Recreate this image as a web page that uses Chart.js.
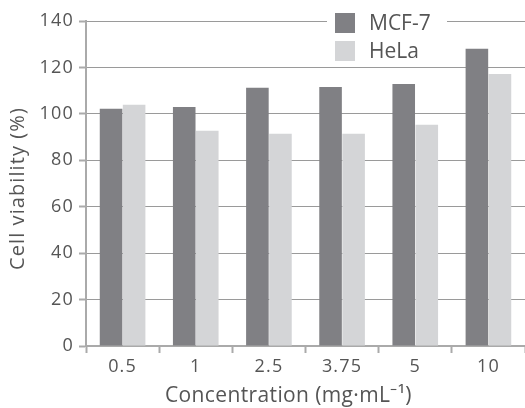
<!DOCTYPE html>
<html><head><meta charset="utf-8">
<script src="https://cdn.jsdelivr.net/npm/chart.js@4/dist/chart.umd.min.js"></script>
<style>html,body{margin:0;padding:0;background:#fff}#wrap{width:525px;height:408px}</style>
</head><body><div id="wrap"><canvas id="c" width="525" height="408"></canvas></div>
<script>
const categories = ["0.5", "1", "2.5", "3.75", "5", "10"];
const mcf7 = [102.2, 103.0, 111.2, 111.6, 112.9, 128.0];
const hela = [103.9, 92.7, 91.4, 91.4, 95.3, 117.2];
const seriesNames = ["MCF-7", "HeLa"];
const yTicks = [0, 20, 40, 60, 80, 100, 120, 140];
const xTitle = "Concentration (mg·mL⁻¹)";
const yTitle = "Cell viability (%)";

const FONT = "'Open Sans', sans-serif";
const TXT = "#555555";
const C1 = "#808084", C2 = "#d4d5d7";

const spacingPlugin = {
  id: 'spacing',
  beforeDraw(chart) { chart.ctx.letterSpacing = '1.2px'; }
};

function fittedText(ctx, text, width) {
  ctx.letterSpacing = '0px';
  const w = ctx.measureText(text).width;
  const n = [...text].length;
  ctx.letterSpacing = ((width - w) / n).toFixed(2) + 'px';
}

const overlayPlugin = {
  id: 'overlay',
  afterDraw(chart) {
    const ctx = chart.ctx;
    ctx.save();
    ctx.letterSpacing = '0px';
    // legend
    ctx.fillStyle = '#fff';
    ctx.fillRect(327, 8, 120, 56);
    chart.data.datasets.forEach((ds, i) => {
      const y = 13 + i * 28;
      ctx.fillStyle = ds.backgroundColor;
      ctx.fillRect(335, y, 20, 20);
      ctx.fillStyle = TXT;
      ctx.font = "21px " + FONT;
      ctx.textBaseline = 'middle';
      ctx.textAlign = 'left';
      ctx.fillText(ds.label, 369, y + 11);
    });
    // x title
    ctx.font = "21px " + FONT;
    ctx.textAlign = 'left';
    ctx.textBaseline = 'middle';
    fittedText(ctx, xTitle, 247);
    ctx.fillText(xTitle, 165, 396);
    // y title
    ctx.translate(18, 270);
    ctx.rotate(-Math.PI / 2);
    ctx.font = "20px " + FONT;
    fittedText(ctx, yTitle, 163);
    ctx.fillText(yTitle, 0, 0);
    ctx.restore();
  }
};

new Chart(document.getElementById('c'), {
  type: 'bar',
  data: {
    labels: categories,
    datasets: [
      { label: seriesNames[0], data: mcf7, backgroundColor: C1, borderWidth: 0 },
      { label: seriesNames[1], data: hela, backgroundColor: C2, borderWidth: 0 }
    ]
  },
  options: {
    responsive: false,
    animation: false,
    devicePixelRatio: 1,
    layout: { padding: { top: 21, right: 0, left: 0, bottom: 0 } },
    datasets: { bar: { categoryPercentage: 0.63, barPercentage: 0.98 } },
    plugins: { legend: { display: false }, tooltip: { enabled: false } },
    scales: {
      x: {
        afterFit(scale) { scale.height = 62; },
        grid: { drawOnChartArea: false, drawTicks: true, tickLength: 7, tickColor: '#aaaaaa', tickWidth: 2, offset: true },
        border: { color: '#aaaaaa', width: 2 },
        ticks: { color: TXT, font: { family: FONT, size: 18 }, padding: 3 },
        title: { display: false, text: xTitle }
      },
      y: {
        min: 0, max: 140,
        afterFit(scale) { scale.width = 86; },
        afterBuildTicks(scale) { scale.ticks = yTicks.map(v => ({ value: v })); },
        grid: { color: '#9a9a9a', lineWidth: 1, borderDash: [1, 2], tickLength: 7, tickColor: '#aaaaaa', tickWidth: 2, tickBorderDash: [] },
        border: { color: '#aaaaaa', width: 2 },
        ticks: { color: TXT, font: { family: FONT, size: 18 }, padding: 5 },
        title: { display: false, text: yTitle }
      }
    }
  },
  plugins: [spacingPlugin, overlayPlugin]
});
</script></body></html>
